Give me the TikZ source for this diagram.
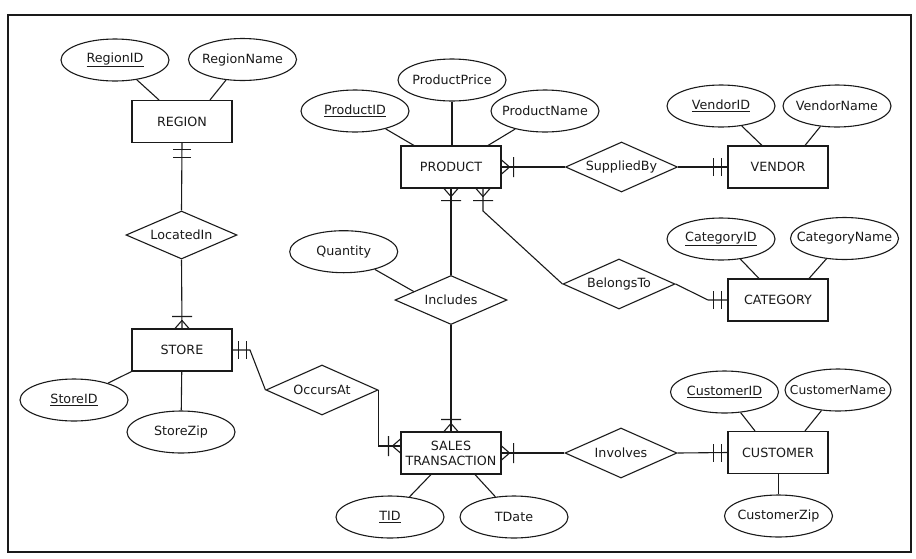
\documentclass[tikz,border=0pt]{standalone}
\usepackage{fontspec}
\setmainfont{DejaVu Sans}
\usetikzlibrary{shapes.geometric,calc}
\definecolor{ink}{HTML}{1A1A1A}
\newcommand\atxt[1]{\makebox[0pt][c]{#1}}
\tikzset{
 every node/.style={font=\fontsize{12.7pt}{15pt}\selectfont, text=ink},
 ent/.style={draw=ink, line width=1.1pt, rectangle, minimum width=100pt, minimum height=42pt, inner sep=0pt, align=center},
 attr/.style={draw=ink, line width=1.1pt, ellipse, minimum width=108pt, minimum height=42pt, inner sep=0pt},
 rel/.style={draw=ink, line width=1.1pt, diamond, shape aspect=2.24, minimum width=112pt, minimum height=50pt, inner sep=0pt},
 conn/.style={draw=ink, line width=1.1pt},
 manyone/.pic={\draw[conn] (8,0) -- (0,7) (8,0) -- (0,-7) (12,-10) -- (12,10);},
 oneone/.pic={\draw[conn] (6,-9) -- (6,9) (14,-9) -- (14,9);},
}
\begin{document}
\begin{tikzpicture}[x=1pt,y=-1pt]
\useasboundingbox (0,0) rectangle (916,558);
\draw[ink, line width=1.4pt] (8,15) rectangle (911,552);

% entities
\node[ent] (REGION) at (182,121.5) {REGION};
\node[ent] (STORE) at (182,350) {STORE};
\node[ent] (PRODUCT) at (451,167) {PRODUCT};
\node[ent] (VENDOR) at (778,167) {VENDOR};
\node[ent] (CATEGORY) at (778,300) {CATEGORY};
\node[ent] (SALES) at (451,453) {SALES\\TRANSACTION};
\node[ent] (CUSTOMER) at (778,452.5) {CUSTOMER};

% relationships
\node[rel, minimum width=111pt, minimum height=48pt] (LocatedIn) at (181.5,235) {LocatedIn};
\node[rel] (OccursAt) at (322,390) {OccursAt};
\node[rel] (SuppliedBy) at (621.5,167) {SuppliedBy};
\node[rel] (BelongsTo) at (619,284) {BelongsTo};
\node[rel, minimum height=49pt] (Includes) at (451,300) {Includes};
\node[rel] (Involves) at (621,453) {Involves};

% attributes
\node[attr] (RegionID) at (115,60) {\atxt{\underline{RegionID}}};
\node[attr] (RegionName) at (242.5,59.5) {\atxt{RegionName}};
\node[attr] (StoreID) at (74,400) {\atxt{\underline{StoreID}}};
\node[attr] (StoreZip) at (181,432) {\atxt{StoreZip}};
\node[attr] (ProductID) at (355,111) {\atxt{\underline{ProductID}}};
\node[attr] (ProductPrice) at (452,80) {\atxt{ProductPrice}};
\node[attr] (ProductName) at (545,111) {\atxt{ProductName}};
\node[attr] (VendorID) at (721,106) {\atxt{\underline{VendorID}}};
\node[attr] (VendorName) at (837,106) {\atxt{VendorName}};
\node[attr] (CategoryID) at (721,239) {\atxt{\underline{CategoryID}}};
\node[attr] (CategoryName) at (844.5,238.5) {\atxt{CategoryName}};
\node[attr] (Quantity) at (343.7,251.7) {\atxt{Quantity}};
\node[attr] (TID) at (390,517) {\atxt{\underline{TID}}};
\node[attr] (TDate) at (514,517) {\atxt{TDate}};
\node[attr] (CustomerID) at (724.5,392) {\atxt{\underline{CustomerID}}};
\node[attr, minimum width=106pt, font=\fontsize{12.3pt}{14pt}\selectfont] (CustomerName) at (838,390) {\atxt{CustomerName}};
\node[attr] (CustomerZip) at (778.5,516) {\atxt{CustomerZip}};

% attribute lines
\draw[conn] (RegionID) -- ([xshift=-23pt]REGION.north);
\draw[conn] (RegionName) -- ([xshift=28pt]REGION.north);
\draw[conn] (StoreID) -- (STORE.south west);
\draw[conn] (StoreZip) -- (STORE);
\draw[conn] (ProductID) -- ([xshift=-37pt]PRODUCT.north);
\draw[conn] (ProductPrice) -- (ProductPrice |- PRODUCT.north);
\draw[conn] (ProductName) -- ([xshift=37pt]PRODUCT.north);
\draw[conn] (VendorID) -- ([xshift=-16pt]VENDOR.north);
\draw[conn] (VendorName) -- ([xshift=27pt]VENDOR.north);
\draw[conn] (CategoryID) -- ([xshift=-19pt]CATEGORY.north);
\draw[conn] (CategoryName) -- ([xshift=31pt]CATEGORY.north);
\draw[conn] (Quantity) -- ($(Includes.west)!0.34!(Includes.north)$);
\draw[conn] (TID) -- ([xshift=-20pt]SALES.south);
\draw[conn] (TDate) -- ([xshift=24pt]SALES.south);
\draw[conn] (CustomerID) -- ([xshift=-23pt]CUSTOMER.north);
\draw[conn] (CustomerName) -- ([xshift=27pt]CUSTOMER.north);
\draw[conn] (CustomerZip) -- (CustomerZip |- CUSTOMER.south);

% relationship connectors
\coordinate (oa1) at (250,350);
\coordinate (bt1) at (483,211);
\coordinate (bt2) at (708,300);
\draw[conn] (REGION.south) -- (LocatedIn.north);
\draw[conn] (LocatedIn.south) -- (STORE.north);
\draw[conn] (STORE.east) -- (oa1) -- (OccursAt.west);
\draw[conn] (OccursAt.east) |- ([yshift=7pt]SALES.west);
\draw[conn] (SALES.east) -- (Involves.west);
\draw[conn] (Involves.east) -- (CUSTOMER.west);
\draw[conn] (PRODUCT.east) -- (SuppliedBy.west);
\draw[conn] (SuppliedBy.east) -- (VENDOR.west);
\draw[conn] (PRODUCT.south) -- (Includes.north);
\draw[conn] (Includes.south) -- (SALES.north);
\draw[conn] ([xshift=32pt]PRODUCT.south) -- (bt1) -- (BelongsTo.west);
\draw[conn] (BelongsTo.east) -- (bt2) -- (CATEGORY.west);

% cardinality marks
\pic[rotate=-90] at (REGION.south) {oneone};
\pic[rotate=90] at (STORE.north) {manyone};
\pic at (STORE.east) {oneone};
\pic[rotate=180] at ([yshift=7pt]SALES.west) {manyone};
\pic at (SALES.east) {manyone};
\pic[rotate=180] at (CUSTOMER.west) {oneone};
\pic at (PRODUCT.east) {manyone};
\pic[rotate=180] at (VENDOR.west) {oneone};
\pic[rotate=-90] at (PRODUCT.south) {manyone};
\pic[rotate=90] at (SALES.north) {manyone};
\pic[rotate=-90] at ([xshift=32pt]PRODUCT.south) {manyone};
\pic[rotate=180] at (CATEGORY.west) {oneone};
\end{tikzpicture}
\end{document}
